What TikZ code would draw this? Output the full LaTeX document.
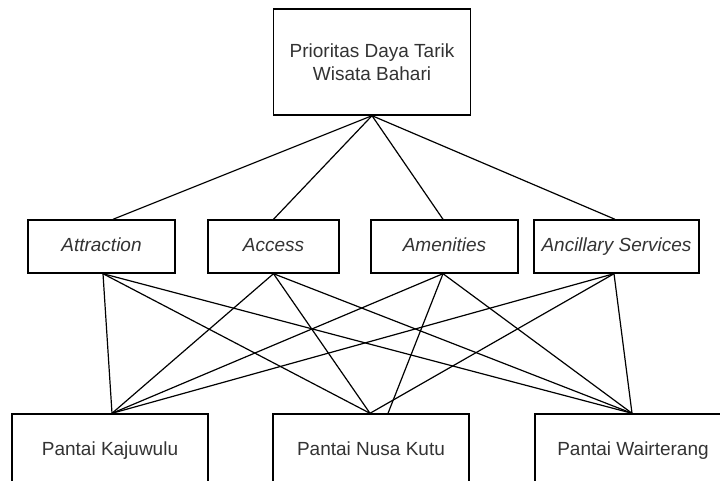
\documentclass[tikz,border=0pt]{standalone}
\usepackage{fontspec}
\setmainfont{Liberation Sans}
\definecolor{txt}{HTML}{333333}
\begin{document}
\begin{tikzpicture}[x=1pt,y=-1pt,
  box/.style={draw=black, line width=1.4pt, fill=white, inner sep=0pt, text=txt,
    font=\fontsize{19}{23.5}\selectfont, align=center},
  one/.style={box, text height=13.6pt, text depth=3.6pt},
  link/.style={draw=black, line width=1.2pt}]
\useasboundingbox (0,0) rectangle (720,481);
\clip (0,0) rectangle (720,481);
% top
\node[box, minimum width=197pt, minimum height=106pt] (top) at (372,62) {Prioritas Daya Tarik\\Wisata Bahari};
% middle
\node[one, minimum width=147pt, minimum height=53pt] (attr) at (101.5,246.5) {\itshape Attraction};
\node[one, minimum width=131pt, minimum height=53pt] (acc) at (273.5,246.5) {\itshape Access};
\node[one, minimum width=147pt, minimum height=53pt] (amen) at (444.5,246.5) {\itshape Amenities};
\node[one, minimum width=165pt, minimum height=53pt] (anc) at (616.5,246.5) {\itshape Ancillary Services};
% bottom
\node[one, minimum width=196pt, minimum height=72pt] (kaj) at (110,450) {Pantai Kajuwulu};
\node[one, minimum width=196pt, minimum height=72pt] (nusa) at (371,450) {Pantai Nusa Kutu};
\node[one, minimum width=196pt, minimum height=72pt] (wair) at (633,450) {Pantai Wairterang};
% top links
\draw[link] (top.south) -- ([xshift=11.5pt]attr.north);
\draw[link] (top.south) -- (acc.north);
\draw[link] (top.south) -- ([xshift=-1.5pt]amen.north);
\draw[link] (top.south) -- ([xshift=-1.5pt]anc.north);
% coordinates
\coordinate (attrS) at ([xshift=1.5pt]attr.south);
\coordinate (accS) at (acc.south);
\coordinate (amenS) at ([xshift=-1.5pt]amen.south);
\coordinate (ancS) at ([xshift=-2.5pt]anc.south);
\coordinate (kajN) at ([xshift=2pt]kaj.north);
\coordinate (nusaN) at ([xshift=-1pt]nusa.north);
\coordinate (nusaN2) at ([xshift=17pt]nusa.north);
\coordinate (wairN) at ([xshift=-1pt]wair.north);
% lower links
\foreach \s in {attrS,accS,amenS,ancS} {
  \draw[link] (\s) -- (kajN);
  \draw[link] (\s) -- (wairN);
}
\draw[link] (attrS) -- (nusaN);
\draw[link] (accS) -- (nusaN);
\draw[link] (amenS) -- (nusaN2);
\draw[link] (ancS) -- (nusaN);
\end{tikzpicture}
\end{document}
